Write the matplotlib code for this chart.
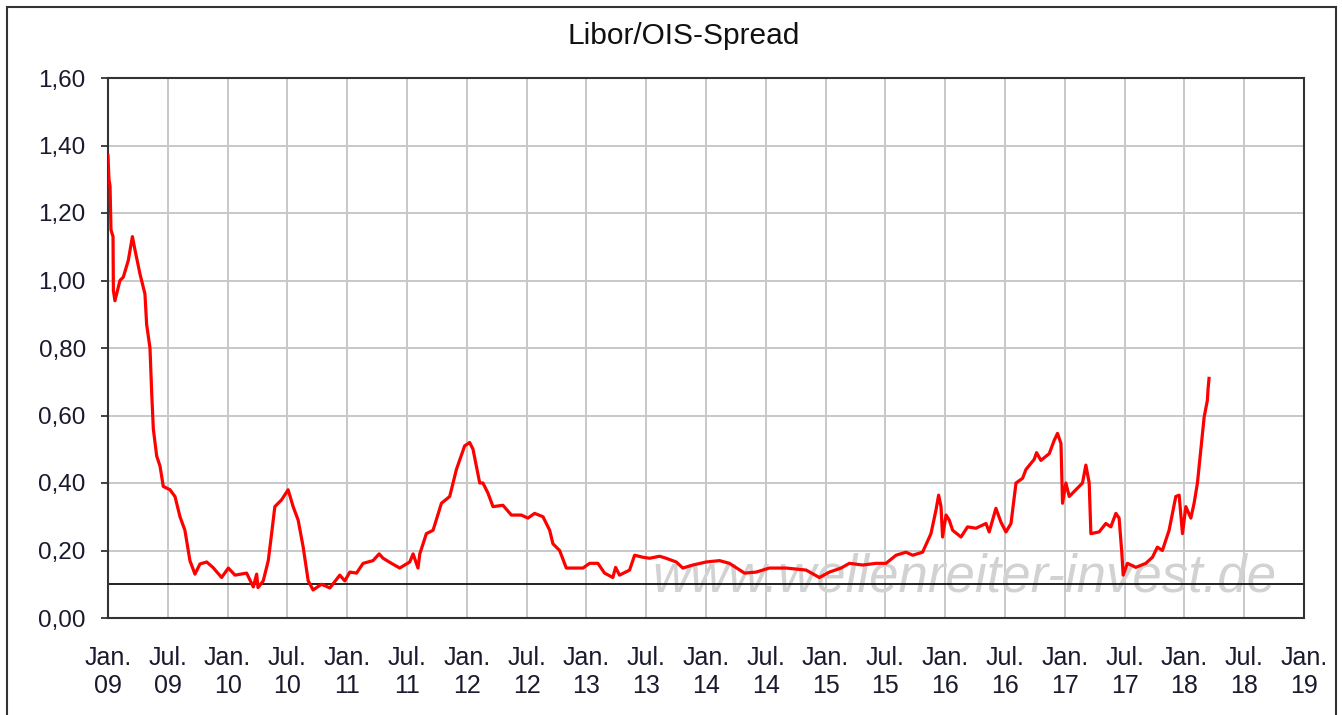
import matplotlib
matplotlib.use("Agg")
import matplotlib.pyplot as plt
from matplotlib.patches import Rectangle

plt.rcParams['font.family'] = ['Liberation Sans', 'DejaVu Sans']

# years since Jan. 2009
t_years = [0.000, 0.008, 0.017, 0.025, 0.042, 0.045, 0.058, 0.100, 0.128, 0.170,
           0.204, 0.226, 0.267, 0.309, 0.323, 0.351, 0.365, 0.379, 0.407, 0.435,
           0.462, 0.518, 0.560, 0.602, 0.643, 0.685, 0.727, 0.769, 0.825, 0.877,
           0.950, 1.006, 1.062, 1.159, 1.215, 1.243, 1.254, 1.298, 1.340, 1.368,
           1.395, 1.451, 1.506, 1.548, 1.590, 1.632, 1.674, 1.715, 1.785, 1.855,
           1.938, 1.980, 2.022, 2.078, 2.133, 2.216, 2.267, 2.300, 2.370, 2.439,
           2.523, 2.551, 2.592, 2.607, 2.662, 2.718, 2.788, 2.857, 2.913, 2.982,
           3.024, 3.052, 3.108, 3.135, 3.177, 3.219, 3.302, 3.373, 3.456, 3.511,
           3.567, 3.637, 3.693, 3.720, 3.776, 3.832, 3.971, 4.027, 4.096, 4.152,
           4.221, 4.244, 4.277, 4.361, 4.403, 4.472, 4.528, 4.612, 4.667, 4.751,
           4.806, 4.890, 5.002, 5.113, 5.196, 5.322, 5.419, 5.530, 5.670, 5.837,
           5.948, 6.032, 6.129, 6.199, 6.310, 6.422, 6.505, 6.589, 6.672, 6.728,
           6.811, 6.881, 6.923, 6.945, 6.965, 6.978, 7.007, 7.034, 7.062, 7.132,
           7.187, 7.257, 7.341, 7.368, 7.424, 7.466, 7.508, 7.550, 7.592, 7.647,
           7.675, 7.744, 7.764, 7.800, 7.870, 7.912, 7.939, 7.968, 7.981, 8.009,
           8.037, 8.093, 8.148, 8.176, 8.204, 8.218, 8.287, 8.343, 8.385, 8.427,
           8.454, 8.477, 8.488, 8.524, 8.594, 8.677, 8.733, 8.774, 8.816, 8.872,
           8.928, 8.956, 8.984, 9.012, 9.054, 9.081, 9.109, 9.137, 9.165, 9.192,
           9.198, 9.206]
spread = [1.37, 1.30, 1.28, 1.15, 1.13, 0.97, 0.94, 1.00, 1.01, 1.06,
          1.13, 1.09, 1.02, 0.96, 0.87, 0.80, 0.67, 0.56, 0.48, 0.45,
          0.39, 0.38, 0.36, 0.30, 0.26, 0.17, 0.13, 0.16, 0.166, 0.15,
          0.12, 0.148, 0.127, 0.133, 0.092, 0.13, 0.09, 0.11, 0.17, 0.25,
          0.33, 0.35, 0.38, 0.33, 0.29, 0.21, 0.11, 0.083, 0.10, 0.089,
          0.127, 0.11, 0.136, 0.133, 0.162, 0.17, 0.19, 0.177, 0.162, 0.148,
          0.166, 0.19, 0.148, 0.19, 0.25, 0.26, 0.34, 0.36, 0.44, 0.51,
          0.52, 0.50, 0.40, 0.40, 0.37, 0.33, 0.334, 0.305, 0.305, 0.296,
          0.31, 0.30, 0.26, 0.22, 0.20, 0.148, 0.148, 0.162, 0.162, 0.133,
          0.12, 0.15, 0.127, 0.142, 0.186, 0.18, 0.177, 0.183, 0.177, 0.166,
          0.148, 0.157, 0.166, 0.17, 0.162, 0.133, 0.136, 0.148, 0.148, 0.142,
          0.12, 0.136, 0.148, 0.162, 0.157, 0.162, 0.162, 0.186, 0.195, 0.186,
          0.195, 0.25, 0.32, 0.364, 0.33, 0.24, 0.305, 0.29, 0.26, 0.24,
          0.27, 0.266, 0.28, 0.255, 0.325, 0.284, 0.255, 0.28, 0.40, 0.414,
          0.44, 0.47, 0.49, 0.467, 0.487, 0.527, 0.547, 0.517, 0.34, 0.40,
          0.36, 0.38, 0.40, 0.453, 0.40, 0.25, 0.255, 0.28, 0.27, 0.31,
          0.296, 0.192, 0.127, 0.162, 0.15, 0.162, 0.18, 0.21, 0.20, 0.26,
          0.36, 0.364, 0.25, 0.33, 0.296, 0.34, 0.40, 0.497, 0.595, 0.645,
          0.68, 0.71]

x_tick_labels = ["Jan.\n09", "Jul.\n09", "Jan.\n10", "Jul.\n10", "Jan.\n11", "Jul.\n11",
                 "Jan.\n12", "Jul.\n12", "Jan.\n13", "Jul.\n13", "Jan.\n14", "Jul.\n14",
                 "Jan.\n15", "Jul.\n15", "Jan.\n16", "Jul.\n16", "Jan.\n17", "Jul.\n17",
                 "Jan.\n18", "Jul.\n18", "Jan.\n19"]
y_ticks = [0.0, 0.2, 0.4, 0.6, 0.8, 1.0, 1.2, 1.4, 1.6]
y_tick_labels = ["0,00", "0,20", "0,40", "0,60", "0,80", "1,00", "1,20", "1,40", "1,60"]
ref_level = 0.10
title = "Libor/OIS-Spread"
watermark = "www.wellenreiter-invest.de"

W, H = 1342, 715
fig = plt.figure(figsize=(W / 100, H / 100), dpi=100)
ax = fig.add_axes([108 / W, 1 - 618 / H, (1304 - 108) / W, (618 - 78) / H])

x_ticks = [0.5 * i for i in range(len(x_tick_labels))]
ax.set_xlim(0, 10)
ax.set_ylim(0, 1.6)
ax.set_xticks(x_ticks)
ax.set_xticklabels(x_tick_labels)
ax.set_yticks(y_ticks)
ax.set_yticklabels(y_tick_labels)
ax.grid(True, color='#c8c8c8', linewidth=1.4)
ax.set_axisbelow(True)
for s in ax.spines.values():
    s.set_color('#333333')
    s.set_linewidth(1.5)
ax.tick_params(axis='x', length=0, pad=20, labelsize=18, colors='#1a1a2e')
ax.tick_params(axis='y', length=5, width=1.3, pad=11, labelsize=17.5, colors='#1a1a2e')
ax.tick_params(axis='both', color='#333333')

ax.text((964 - 108) / 1196, (618 - 591) / 540, watermark, transform=ax.transAxes,
        ha='center', va='baseline', fontsize=38, style='italic', color='#d2d2d2', zorder=1)
ax.axhline(ref_level, color='#111111', linewidth=1.3, zorder=2)
ax.plot(t_years, spread, color='#ff0000', linewidth=2.3, zorder=3)

fig.text(684 / W, 1 - 36 / H, title, ha='center', va='center', fontsize=21.5, color='#111111')

fig.patches.append(Rectangle((7 / W, -0.02), (1336 - 7) / W, 1 - 7 / H + 0.02,
                             transform=fig.transFigure, fill=False,
                             edgecolor='#333333', linewidth=1.5))

fig.savefig('out.png', dpi=100)
